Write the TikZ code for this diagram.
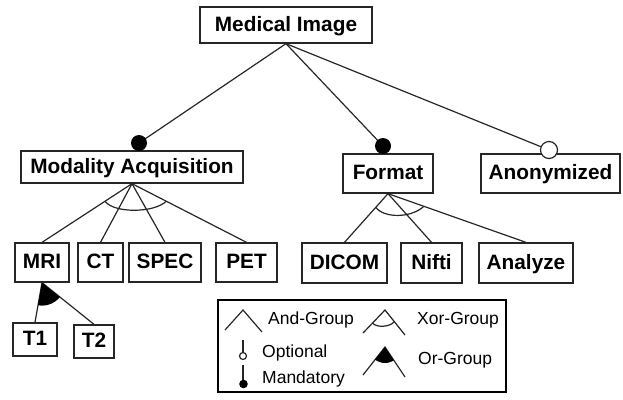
\documentclass[tikz,border=0pt]{standalone}
\usepackage{fontspec}
\setmainfont{Liberation Sans}
\usetikzlibrary{calc}
\tikzset{
  feat/.style={draw=black!85, line width=1.3bp, inner sep=0pt,
    font=\fontsize{20.8bp}{24bp}\selectfont\bfseries,
    text height=15.6bp, text depth=3.5bp, align=center},
  link/.style={line width=1.2bp, draw=black!85},
  legtxt/.style={font=\fontsize{17.5bp}{21bp}\selectfont, inner sep=0pt, anchor=base west},
}
\begin{document}
\begin{tikzpicture}[x=1bp,y=-1bp]
\useasboundingbox (0,0) rectangle (623,399);
% features
\node[feat, minimum width=172bp, minimum height=36bp] (med) at (286,25) {Medical Image};
\node[feat, minimum width=222bp, minimum height=32bp] (mod) at (132,167) {Modality Acquisition};
\node[feat, minimum width=90bp, minimum height=39bp] (fmt) at (388,173.5) {Format};
\node[feat, minimum width=139bp, minimum height=39bp] (anon) at (550.5,173.5) {Anonymized};
\node[feat, minimum width=54bp, minimum height=39bp] (mri) at (42,262.5) {MRI};
\node[feat, minimum width=45bp, minimum height=39bp] (ct) at (100.5,262.5) {CT};
\node[feat, minimum width=72bp, minimum height=39bp] (spec) at (165,262.5) {SPEC};
\node[feat, minimum width=61bp, minimum height=39bp] (pet) at (246.5,262.5) {PET};
\node[feat, minimum width=85bp, minimum height=40bp] (dicom) at (344.5,263) {DICOM};
\node[feat, minimum width=61bp, minimum height=40bp] (nifti) at (431.5,263) {Nifti};
\node[feat, minimum width=94bp, minimum height=40bp] (analyze) at (526,263) {Analyze};
\node[feat, minimum width=44bp, minimum height=33bp] (t1) at (35,339.5) {T1};
\node[feat, minimum width=40bp, minimum height=33bp] (t2) at (94,341.5) {T2};
% connectors from root
\coordinate (mc) at (139,143);
\coordinate (fc) at (383,146);
\coordinate (ac) at (549,150);
\draw[link] (med.south) -- (mc);
\draw[link] (med.south) -- (fc);
\draw[link] (med.south) -- (ac);
\fill[black] (mc) circle (8bp);
\fill[black] (fc) circle (8bp);
\draw[link, fill=white] (ac) circle (8.5bp);
% children
\foreach \c in {mri,ct,spec,pet} \draw[link] (mod.south) -- (\c.north);
\foreach \c in {dicom,nifti,analyze} \draw[link] (fmt.south) -- (\c.north);
\draw[link] (mri.south) -- (t1.north);
\draw[link] (mri.south) -- (t2.north);
% xor arcs
\draw[link] ($(mod.south)!0.3!(mri.north)$) .. controls +(9,12) and +(-13,12) .. ($(mod.south)!0.3!(pet.north)$);
\draw[link] ($(fmt.south)!0.28!(dicom.north)$) .. controls +(8,11) and +(-13,12) .. ($(fmt.south)!0.26!(analyze.north)$);
% or group
\begin{scope}
  \clip (mri.south) -- (t1.north) -- (t2.north) -- cycle;
  \fill[black] (mri.south) circle (23bp);
\end{scope}
% legend
\node[draw, line width=2.2bp, minimum width=288bp, minimum height=92bp, inner sep=0pt] (leg) at (362,346) {};
\draw[link] (225,330) -- (243,310) -- (262,332);
\node[legtxt] (land) at (268,324.3) {And-Group};
\draw[link] (243,340) -- (243,352.5);
\draw[link, fill=white] (243,356) circle (3.5bp);
\node[legtxt] (lopt) at (262,357.3) {Optional};
\draw[link] (243,365) -- (243,381);
\fill[black] (243.5,384) circle (4.3bp);
\node[legtxt] (lman) at (262,383.3) {Mandatory};
\draw[link] (363,333) -- (385,310) -- (405,335);
\draw[link] (372.5,323) .. controls (376,327.5) and (389,327.5) .. (394,322);
\node[legtxt] (lxor) at (417,324.3) {Xor-Group};
\draw[link] (363,375) -- (385,347) -- (405,377);
\begin{scope}
  \clip (385,347) -- (363,375) -- (405,377) -- cycle;
  \fill[black] (385,347) circle (16bp);
\end{scope}
\node[legtxt] (lor) at (418,364.3) {Or-Group};
\end{tikzpicture}
\end{document}
